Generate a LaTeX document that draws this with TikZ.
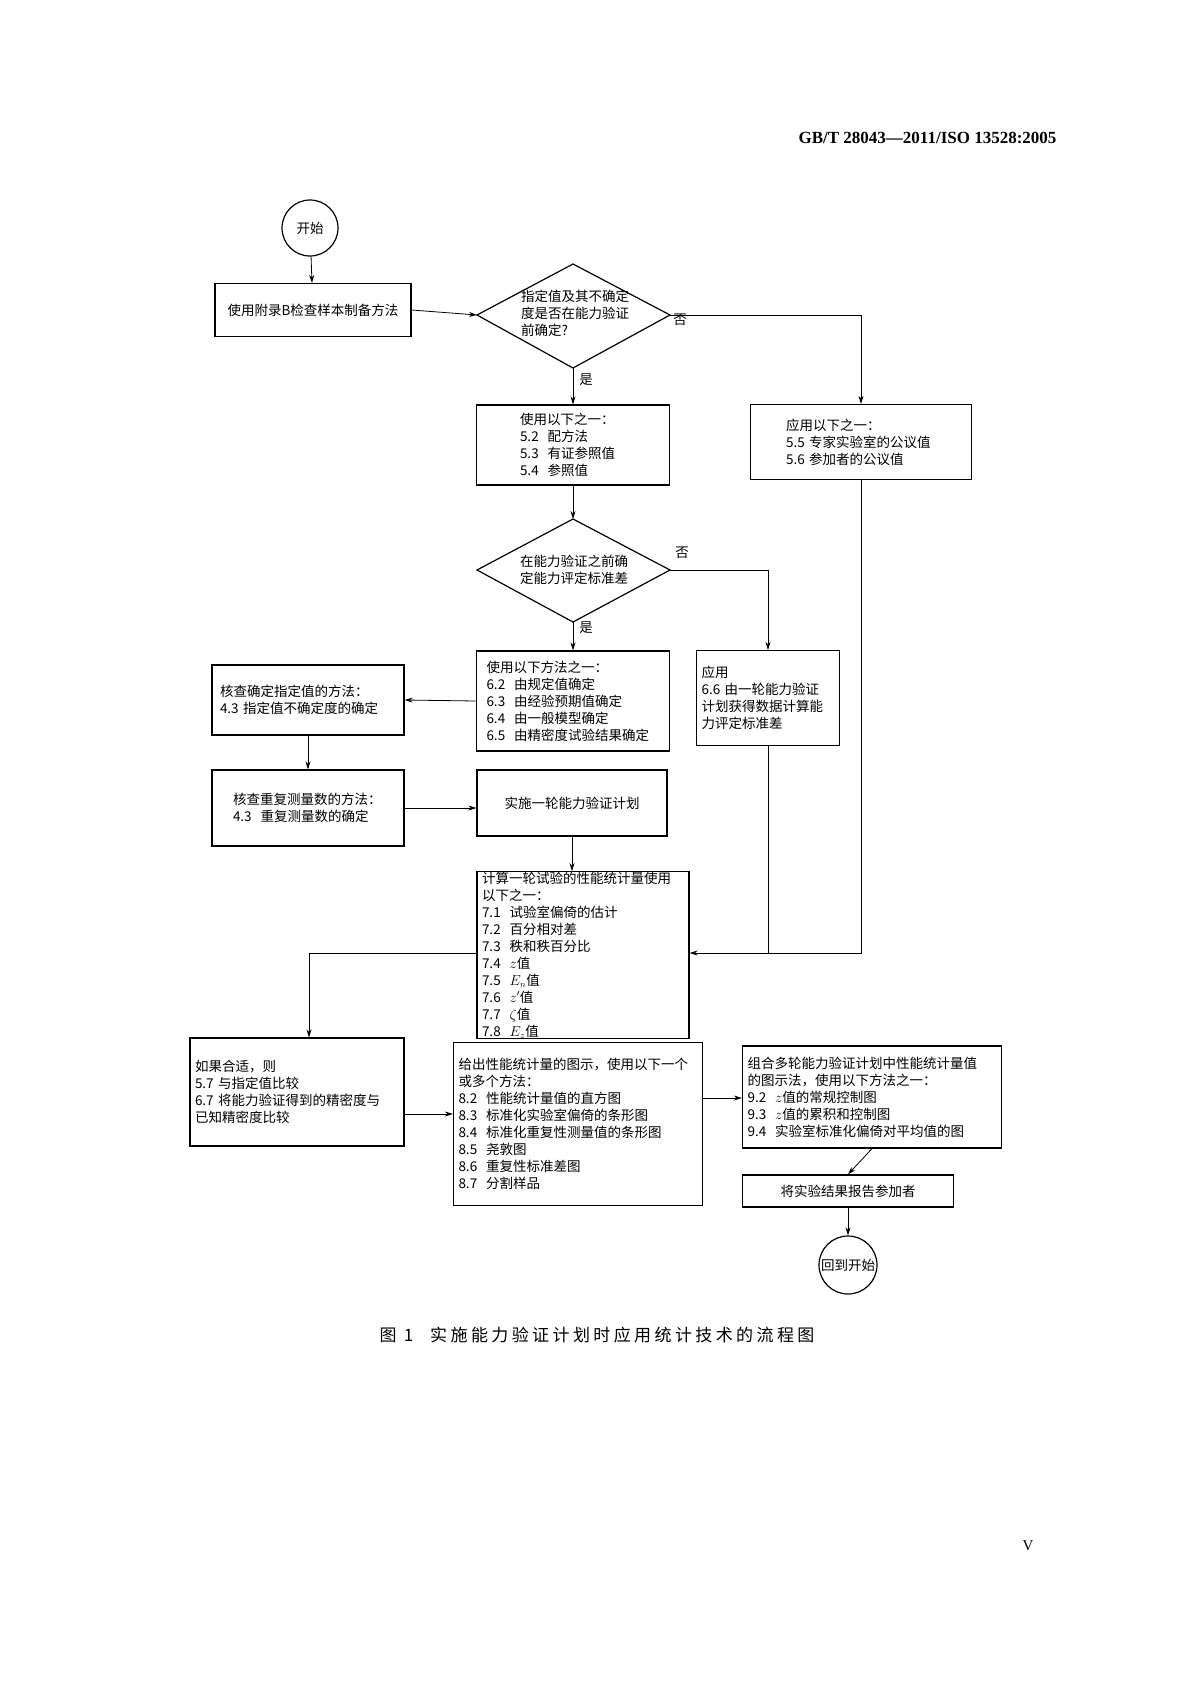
\documentclass[tikz,border=0pt]{standalone}
\usepackage{fontspec}
\setmainfont{Noto Sans CJK SC}
\newfontfamily\hdr{Liberation Serif}
\newfontfamily\capf[LetterSpace=20]{Noto Sans CJK SC}
\usetikzlibrary{arrows.meta,calc}
\begin{document}
\begin{tikzpicture}[x=1pt,y=-1pt,
  every node/.style={font=\fontsize{13.5}{17}\selectfont},
  box/.style={draw,line width=1.2pt,align=left,inner xsep=5pt,inner ysep=0pt},
  circ/.style={draw,line width=1.2pt,ellipse,inner sep=0pt},
  ln/.style={line width=0.8pt},
  ar/.style={line width=0.8pt,-{Stealth[length=8pt,width=5pt]}}]
\useasboundingbox (0,0) rectangle (1191,1684);
\node[anchor=east,font=\hdr\bfseries\fontsize{17}{20}\selectfont] (hd) at (1060,138) {GB/T 28043—2011/ISO 13528:2005};
\node[draw,line width=1.2pt,circle,minimum size=56pt,inner sep=0pt] (st) at (310,228) {开始};
\node[box,minimum width=196pt,minimum height=53pt,text width=186pt,align=center] (b1) at (313,310) {使用附录B检查样本制备方法};
% diamond 1
\coordinate (d1t) at (573,264); \coordinate (d1b) at (573,368);
\coordinate (d1l) at (477,315); \coordinate (d1r) at (670,315);
\draw[line width=1.2pt] (d1t)--(d1r)--(d1b)--(d1l)--cycle;
\node[align=left] (d1) at (575,313) {指定值及其不确定\\度是否在能力验证\\前确定?};
\node[box,minimum height=80pt,text width=106pt,minimum width=193pt] (b2) at (573,445) {使用以下之一：\\5.2\ \ 配方法\\5.3\ \ 有证参照值\\5.4\ \ 参照值};
\node[box,minimum height=75pt,text width=150pt,minimum width=221pt] (b55) at (861,442) {应用以下之一：\\5.5 专家实验室的公议值\\5.6 参加者的公议值};
% diamond 2
\coordinate (d2t) at (573,519); \coordinate (d2b) at (573,622);
\coordinate (d2l) at (477,570); \coordinate (d2r) at (670,570);
\draw[line width=1.2pt] (d2t)--(d2r)--(d2b)--(d2l)--cycle;
\node[align=left] (d2) at (574,570) {在能力验证之前确\\定能力评定标准差};
\node[box,minimum height=100pt,text width=173pt,minimum width=193pt] (b6) at (573,701) {使用以下方法之一：\\6.2\ \ 由规定值确定\\6.3\ \ 由经验预期值确定\\6.4\ \ 由一般模型确定\\6.5\ \ 由精密度试验结果确定};
\node[box,minimum height=95pt,text width=133pt,minimum width=143pt] (b66) at (768,698) {应用\\6.6\ 由一轮能力验证\\计划获得数据计算能\\力评定标准差};
\node[box,minimum height=70pt,text width=176pt,minimum width=192pt] (k1) at (308,700) {核查确定指定值的方法：\\4.3\ 指定值不确定度的确定};
\node[box,minimum height=76pt,text width=150pt,minimum width=192pt] (k2) at (308,808) {核查重复测量数的方法：\\4.3\ \ 重复测量数的确定};
\node[box,minimum height=66pt,text width=180pt,minimum width=190pt,align=center] (ss) at (572,803) {实施一轮能力验证计划};
\node[box,minimum height=165pt,text width=202pt,minimum width=212pt] (js) at (583,955) {计算一轮试验的性能统计量使用\\以下之一：\\7.1\ \ 试验室偏倚的估计\\7.2\ \ 百分相对差\\7.3\ \ 秩和秩百分比\\7.4\ \ $z$值\\7.5\ \ $E_n$值\\7.6\ \ $z'$值\\7.7\ \ $\zeta$值\\7.8\ \ $E_z$值};
\node[box,minimum height=108pt,text width=204pt,minimum width=214pt] (rg) at (297,1092) {如果合适，则\\5.7\ 与指定值比较\\6.7\ 将能力验证得到的精密度与\\已知精密度比较\\[14pt]};
\node[box,minimum height=163pt,text width=239pt,minimum width=249pt] (gc) at (578,1124) {给出性能统计量的图示，使用以下一个\\或多个方法：\\8.2\ \ 性能统计量值的直方图\\8.3\ \ 标准化实验室偏倚的条形图\\8.4\ \ 标准化重复性测量值的条形图\\8.5\ \ 尧敦图\\8.6\ \ 重复性标准差图\\8.7\ \ 分割样品\\[10pt]};
\node[box,minimum height=102pt,text width=249pt,minimum width=259pt] (zh) at (872,1097) {组合多轮能力验证计划中性能统计量值\\的图示法，使用以下方法之一：\\9.2\ \ $z$值的常规控制图\\9.3\ \ $z$值的累积和控制图\\9.4\ \ 实验室标准化偏倚对平均值的图};
\node[box,minimum height=32pt,text width=201pt,minimum width=211pt,align=center] (bg) at (848,1191) {将实验结果报告参加者};
\node[draw,line width=1.2pt,circle,minimum size=58pt,inner sep=0pt] (en) at (848,1265) {回到开始};
% labels
\node (n1) at (680,320) {否};
\node (y1) at (586,380) {是};
\node (n2) at (682,553) {否};
\node (y2) at (586,628) {是};
% connectors
\draw[ar] (st) -- (b1);
\draw[ar] (b1.east) -- (d1l);
\draw[ar] (d1r) -| (b55.north);
\draw[ar] (d1b) -- (b2.north);
\draw[ar] (b2.south) -- (d2t);
\draw[ar] (d2r) -| (b66.north);
\draw[ar] (d2b) -- (b6.north);
\draw[ar] (b6.west) -- (k1.east);
\draw[ar] (k1.south) -- (k2.north);
\draw[ar] (k2.east) -- (ss.west |- k2.east);
\draw[ar] (ss.south) -- (js.north -| ss.south);
\coordinate (m) at (b55.south |- 0,953);
\draw[ar] (b55.south) -- (m) -- (js.east |- m);
\draw[ln] (b66.south) -- (b66.south |- m);
\coordinate (lm) at (309,953);
\draw[ar] (js.west |- lm) -- (lm) -- (rg.north -| lm);
\draw[ar] (rg.east |- 0,1114) -- (gc.west |- 0,1114);
\draw[ar] (gc.east |- 0,1098) -- (zh.west |- 0,1098);
\draw[ar] (zh.south) -- (bg.north);
\draw[ar] (bg.south) -- (en.north);
\node[font=\capf\fontsize{17}{20}\selectfont] (cap) at (597,1335) {图 1\quad 实施能力验证计划时应用统计技术的流程图};
\node[font=\hdr\fontsize{15}{18}\selectfont] (pg) at (1028,1546) {V};
\end{tikzpicture}
\end{document}
